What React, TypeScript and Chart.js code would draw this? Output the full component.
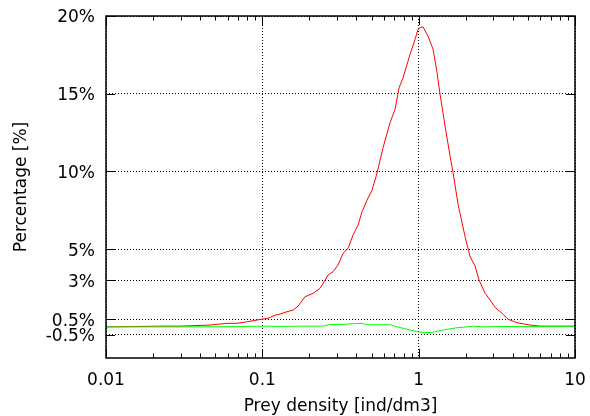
import React, { useEffect, useRef } from "react";
import { Chart, registerables } from "chart.js";

Chart.register(...registerables);

// Red series: prey density [ind/dm3] vs percentage
const redX = [0.01, 0.01425, 0.02215, 0.02975, 0.0463, 0.0594, 0.0689, 0.0798, 0.0996, 0.1088, 0.1206, 0.1298, 0.1439, 0.1572, 0.1692, 0.1875, 0.2111, 0.2339, 0.2519, 0.2633, 0.2834, 0.305, 0.3283, 0.3534, 0.3804, 0.4095, 0.4344, 0.4676, 0.5033, 0.5418, 0.5919, 0.6561, 0.7063, 0.7496, 0.7949, 0.881, 0.9484, 0.9913, 1.021, 1.067, 1.148, 1.236, 1.311, 1.37, 1.475, 1.588, 1.66, 1.787, 1.84, 1.981, 2.133, 2.295, 2.435, 2.66, 2.862, 3.083, 3.417, 3.733, 4.263, 5.161, 5.98, 8.03, 10];
const redY = [0.0, 0.02, 0.05, 0.05, 0.12, 0.23, 0.23, 0.33, 0.5, 0.55, 0.76, 0.83, 0.98, 1.08, 1.34, 1.94, 2.16, 2.48, 3.01, 3.34, 3.55, 3.98, 4.73, 5.05, 5.91, 6.55, 7.41, 8.16, 8.8, 9.9, 11.53, 13.14, 14.0, 15.39, 16.03, 17.54, 18.5, 19.15, 19.25, 19.3, 18.7, 17.86, 16.36, 14.97, 12.92, 10.99, 9.92, 7.89, 7.3, 5.8, 4.51, 3.92, 3.01, 2.16, 1.73, 1.26, 0.87, 0.49, 0.27, 0.12, 0.05, 0.05, 0.05];

// Green series
const greenX = [0.01, 0.02975, 0.072, 0.0996, 0.1298, 0.1743, 0.2445, 0.2711, 0.3283, 0.364, 0.4344, 0.4676, 0.6561, 0.7275, 0.881, 0.9913, 1.099, 1.218, 1.433, 1.761, 2.04, 2.229, 2.582, 3.317, 4.455, 10];
const greenY = [0.0, 0.0, 0.02, 0.05, 0.03, 0.05, 0.05, 0.16, 0.16, 0.2, 0.23, 0.14, 0.14, 0.01, -0.2, -0.31, -0.37, -0.35, -0.2, -0.05, 0.0, 0.05, 0.0, 0.03, 0.02, 0.02];

const xTickValues = [0.01, 0.1, 1, 10];
const xTickLabels = ["0.01", "0.1", "1", "10"];
const yTickValues = [-0.5, 0.5, 3, 5, 10, 15, 20];
const yTickLabels = ["-0.5%", "0.5%", "3%", "5%", "10%", "15%", "20%"];

const xTitle = "Prey density [ind/dm3]";
const yTitle = "Percentage [%]";

const FONT = "'DejaVu Sans', sans-serif";
const FS = 17;

const framePlugin = {
  id: "frame",
  afterDraw(chart: any) {
    const { ctx, chartArea: a, scales } = chart;
    const xs = scales.x;
    const ys = scales.y;
    ctx.save();
    ctx.setLineDash([]);
    ctx.strokeStyle = "#000";
    ctx.lineWidth = 1;
    ctx.beginPath();
    // major x ticks (inside, top and bottom)
    xTickValues.forEach((v) => {
      const px = Math.round(xs.getPixelForValue(v)) + 0.5;
      ctx.moveTo(px, a.bottom);
      ctx.lineTo(px, a.bottom - 9);
      ctx.moveTo(px, a.top);
      ctx.lineTo(px, a.top + 9);
    });
    // minor x ticks
    for (let i = 0; i < xTickValues.length - 1; i++) {
      for (let m = 2; m <= 9; m++) {
        const v = xTickValues[i] * m;
        const px = Math.round(xs.getPixelForValue(v)) + 0.5;
        ctx.moveTo(px, a.bottom);
        ctx.lineTo(px, a.bottom - 4.5);
        ctx.moveTo(px, a.top);
        ctx.lineTo(px, a.top + 4.5);
      }
    }
    // major y ticks (inside, left and right)
    yTickValues.forEach((v) => {
      const py = Math.round(ys.getPixelForValue(v)) + 0.5;
      ctx.moveTo(a.left, py);
      ctx.lineTo(a.left + 9, py);
      ctx.moveTo(a.right, py);
      ctx.lineTo(a.right - 9, py);
    });
    ctx.stroke();
    ctx.lineWidth = 1.5;
    ctx.strokeRect(
      Math.round(a.left),
      Math.round(a.top),
      Math.round(a.right) - Math.round(a.left),
      Math.round(a.bottom) - Math.round(a.top)
    );
    ctx.restore();
  },
};

export default function App() {
  const canvasRef = useRef<HTMLCanvasElement | null>(null);

  useEffect(() => {
    if (!canvasRef.current) return;
    const chart = new Chart(canvasRef.current, {
      type: "line",
      data: {
        datasets: [
          {
            label: "green",
            data: greenX.map((x, i) => ({ x, y: greenY[i] })),
            borderColor: "rgb(0,255,0)",
            borderWidth: 1,
            pointRadius: 0,
            tension: 0,
            fill: false,
            order: 0,
          },
          {
            label: "red",
            data: redX.map((x, i) => ({ x, y: redY[i] })),
            borderColor: "rgb(255,0,0)",
            borderWidth: 1,
            pointRadius: 0,
            tension: 0,
            fill: false,
            order: 1,
          },
        ],
      },
      options: {
        animation: false,
        responsive: true,
        maintainAspectRatio: false,
        layout: { padding: { top: 16, right: 15, left: 0, bottom: 0 } },
        plugins: {
          legend: { display: false },
          tooltip: { enabled: false },
        },
        scales: {
          x: {
            type: "logarithmic",
            min: 0.01,
            max: 10,
            afterBuildTicks: (scale: any) => {
              scale.ticks = xTickValues.map((v) => ({ value: v }));
            },
            afterFit: (scale: any) => {
              scale.height = 58;
              scale.paddingLeft = 0;
              scale.paddingRight = 0;
            },
            ticks: {
              autoSkip: false,
              maxRotation: 0,
              padding: 12,
              color: "#000",
              font: { family: FONT, size: FS },
              callback: (value: any) => {
                const i = xTickValues.indexOf(Number(value));
                return i >= 0 ? xTickLabels[i] : "";
              },
            },
            grid: {
              color: "#000",
              lineWidth: 1,
              drawTicks: false,
            },
            border: { display: false, dash: [1, 2] },
            title: {
              display: true,
              text: xTitle,
              color: "#000",
              font: { family: FONT, size: FS, lineHeight: 1 },
              padding: { top: 0, bottom: 1 },
            },
          },
          y: {
            type: "linear",
            min: -2,
            max: 20,
            afterBuildTicks: (scale: any) => {
              scale.ticks = yTickValues.map((v) => ({ value: v }));
            },
            afterFit: (scale: any) => {
              scale.width = 106;
              scale.paddingTop = 0;
              scale.paddingBottom = 0;
            },
            ticks: {
              autoSkip: false,
              padding: 11,
              labelOffset: 2,
              color: "#000",
              font: { family: FONT, size: FS },
              callback: (value: any) => {
                const i = yTickValues.indexOf(Number(value));
                return i >= 0 ? yTickLabels[i] : "";
              },
            },
            grid: {
              color: "#000",
              lineWidth: 1,
              drawTicks: false,
            },
            border: { display: false, dash: [1, 2] },
            title: {
              display: true,
              text: yTitle,
              color: "#000",
              font: { family: FONT, size: FS, lineHeight: 1 },
              padding: { top: 13, bottom: 0 },
            },
          },
        },
      },
      plugins: [framePlugin],
    });
    return () => chart.destroy();
  }, []);

  return (
    <div style={{ position: "absolute", left: 0, top: 0, width: 590, height: 416 }}>
      <canvas ref={canvasRef} />
    </div>
  );
}
